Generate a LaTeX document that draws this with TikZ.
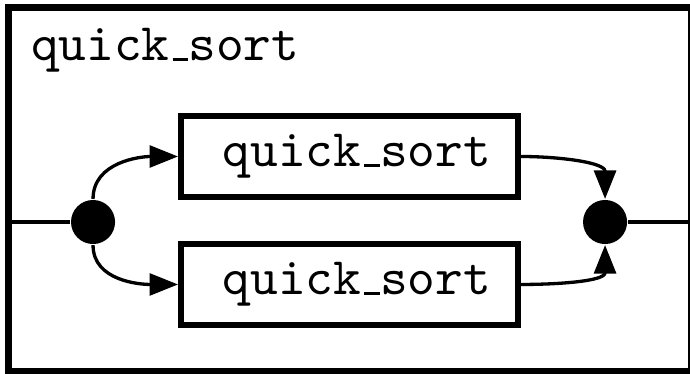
\documentclass[tikz,border=0pt]{standalone}
\usetikzlibrary{arrows.meta,positioning}

\newcommand{\usc}{\leavevmode\kern.06em\vbox{\hrule width .3em height .5pt}}

\begin{document}
\begin{tikzpicture}[>={Triangle[length=5.6pt,width=4.3pt]}, every node/.style={font=\fontsize{10.35}{12}\selectfont\ttfamily}]
  \tikzset{
    frame/.style={draw, line width=1.4pt, minimum width=4.713cm, minimum height=2.512cm, inner sep=0pt},
    sortbox/.style={draw, line width=1.2pt, minimum width=2.325cm, minimum height=0.559cm, inner sep=0pt},
    dot/.style={circle, fill, inner sep=0pt, minimum size=0.304cm},
    wire/.style={line width=0.65pt}
  }
  \useasboundingbox (0,0) rectangle (4.761,-2.574);

  \node[frame] (frame) at (2.415,-1.308) {};
  \node[anchor=base west, inner sep=0pt] (title) at (0.207,-0.421) {quick\usc sort};

  \node[sortbox] (sortA) at (2.412,-1.080) {\hspace*{0.1cm}quick\usc sort};
  \node[sortbox] (sortB) at (2.412,-1.963) {\hspace*{0.1cm}quick\usc sort};

  \node[dot] (split) at (0.642,-1.532) {};
  \node[dot] (join) at (4.175,-1.532) {};

  \coordinate (in) at (frame.west |- split);
  \coordinate (out) at (frame.east |- join);
  \draw[wire] (in) -- (split);
  \draw[wire] (join) -- (out);

  \draw[wire, ->] (split.north) to[out=90, in=180] (sortA.west);
  \draw[wire, ->] (split.south) to[out=-90, in=180] (sortB.west);
  \draw[wire, ->] (sortA.east) to[out=0, in=90] (join.north);
  \draw[wire, ->] (sortB.east) to[out=0, in=-90] (join.south);
\end{tikzpicture}
\end{document}
